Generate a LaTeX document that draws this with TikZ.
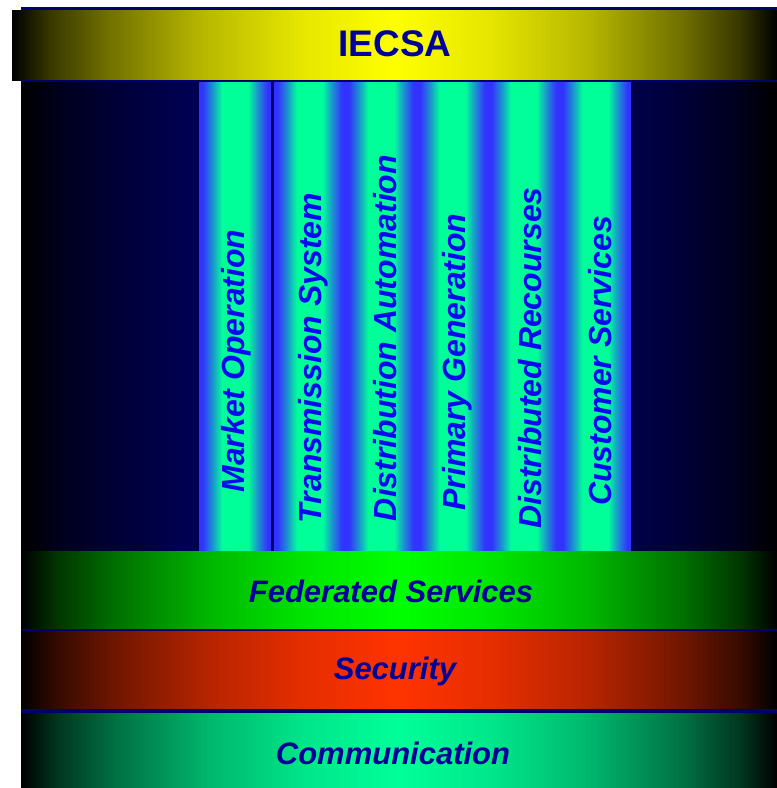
\documentclass[tikz,border=0pt]{standalone}
\usepackage{fontspec}
\setmainfont{Liberation Sans}
\definecolor{bgnavy}{RGB}{0,0,88}
\definecolor{linenavy}{RGB}{0,0,110}
\definecolor{txtnavy}{RGB}{0,0,153}
\definecolor{colblue}{RGB}{51,51,255}
\definecolor{colgreen}{RGB}{0,255,153}
\definecolor{txtblue}{RGB}{10,10,240}
\definecolor{fedgreen}{RGB}{0,255,0}
\definecolor{secred}{RGB}{255,51,0}
\definecolor{commgreen}{RGB}{0,255,153}
\definecolor{ieyellow}{RGB}{255,255,0}
\newcommand\mkhshade[3]{%
\pgfdeclarehorizontalshading{#1}{100bp}{color(0bp)=(#2); color(25bp)=(#2); color(27.5bp)=(#3!22!#2); color(31.25bp)=(#3!44!#2); color(37.5bp)=(#3!72!#2); color(43.75bp)=(#3!90!#2); color(50bp)=(#3); color(56.25bp)=(#3!90!#2); color(62.5bp)=(#3!72!#2); color(68.75bp)=(#3!44!#2); color(72.5bp)=(#3!22!#2); color(75bp)=(#2); color(100bp)=(#2)}}
\mkhshade{yellowsh}{black}{ieyellow}
\mkhshade{fedsh}{black}{fedgreen}
\mkhshade{secsh}{black}{secred}
\mkhshade{commsh}{black}{commgreen}
\pgfdeclarehorizontalshading{colsh}{100bp}{color(0bp)=(colblue); color(25bp)=(colblue); color(27.5bp)=(colblue); color(34bp)=(colgreen!45!colblue); color(41bp)=(colgreen); color(59bp)=(colgreen); color(66bp)=(colgreen!45!colblue); color(72.5bp)=(colblue); color(75bp)=(colblue); color(100bp)=(colblue)}
\pgfdeclarehorizontalshading{bgsh}{100bp}{color(0bp)=(black); color(25bp)=(black); color(27.5bp)=(bgnavy!32!black); color(31.25bp)=(bgnavy!62!black); color(36bp)=(bgnavy!93!black); color(50bp)=(bgnavy); color(64bp)=(bgnavy!93!black); color(68.75bp)=(bgnavy!62!black); color(72.5bp)=(bgnavy!32!black); color(75bp)=(black); color(100bp)=(black)}
\tikzset{
  colbox/.style={shading=colsh,draw=none},
  coltext/.style={rotate=90,text=txtblue,font=\fontsize{32}{36}\selectfont\bfseries\itshape,inner sep=0pt},
  bartext/.style={text=txtnavy,font=\fontsize{31}{36}\selectfont\bfseries\itshape,inner sep=0pt},
  navyline/.style={fill=linenavy,draw=none}
}
\begin{document}
\begin{tikzpicture}[x=1pt,y=-1pt]
\useasboundingbox (0,0) rectangle (777,788);
\fill[white] (0,0) rectangle (777,788);
% dark background
\shade[shading=bgsh] (21,7) rectangle (777,788);
\fill[navyline] (21,7) rectangle (777,10);
% top bar
\shade[shading=yellowsh] (12,10) rectangle (777,80);
\node[text=txtnavy,font=\fontsize{37}{40}\selectfont\bfseries,inner sep=0pt] (iecsa) at (395,44) {IECSA};
\fill[navyline] (21,80) rectangle (777,82);
% columns
\shade[colbox] (199,82) rectangle (271,551);
\fill[navyline] (271,82) rectangle (274,551);
\shade[colbox] (274,82) rectangle (345.4,551);
\shade[colbox] (345.4,82) rectangle (416.8,551);
\shade[colbox] (416.8,82) rectangle (488.2,551);
\shade[colbox] (488.2,82) rectangle (559.6,551);
\shade[colbox] (559.6,82) rectangle (631,551);
\node[coltext] (c1) at (236,361) {Market Operation};
\node[coltext] (c2) at (313,358) {Transmission System};
\node[coltext] (c3) at (385,338) {Distribution Automation};
\node[coltext] (c4) at (457,362) {Primary Generation};
\node[coltext] (c5) at (530,358) {Distributed Recourses};
\node[coltext] (c6) at (600,361) {Customer Services};
% bottom bars
\shade[shading=fedsh] (21,551) rectangle (777,629);
\fill[navyline] (21,629) rectangle (777,631);
\shade[shading=secsh] (21,631) rectangle (777,709);
\fill[navyline] (21,709) rectangle (777,713);
\shade[shading=commsh] (21,713) rectangle (777,788);
\node[bartext] (fed) at (391,591) {Federated Services};
\node[bartext] (sec) at (395,671) {Security};
\node[bartext] (comm) at (393,753) {Communication};
\end{tikzpicture}
\end{document}
